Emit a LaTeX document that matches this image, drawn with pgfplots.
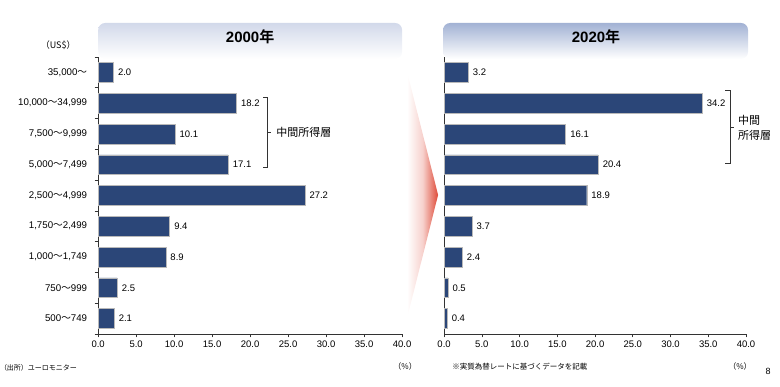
\documentclass[border=0pt]{standalone}
\usepackage{fontspec}
\setmainfont{Liberation Sans}
\newfontfamily\jp{Noto Sans CJK JP}[BoldFont={Noto Sans CJK JP Bold}]
\usepackage{pgfplots}
\pgfplotsset{compat=1.18}
\definecolor{barblue}{HTML}{2B4678}
\definecolor{hdrL}{HTML}{D2D9EA}
\definecolor{hdrR}{HTML}{A2B2D4}
\definecolor{arrowred}{HTML}{DE4A38}
\definecolor{axisgray}{HTML}{333333}
\newcommand{\wave}{{\jp ～}}
\pgfplotsset{panel/.style={
  scale only axis, height=277pt,
  xbar, bar width=0.64,
  xmin=0, xmax=40, ymin=-0.5, ymax=8.5,
  xtick={0,5,...,40},
  /pgf/number format/assume math mode=true,
  xticklabel style={font=\fontsize{9.5}{10}\selectfont, /pgf/number format/.cd, fixed, fixed zerofill, precision=1},
  axis lines*=left,
  axis line style={axisgray, line width=0.6pt},
  tick align=outside,
  major tick length=3.5pt, minor tick length=3.5pt,
  tick style={axisgray, line width=0.6pt},
  ytick={0,...,8},
  minor ytick={-0.5,0.5,...,8.5},
  major y tick style={draw=none},
  minor y tick style={draw=axisgray, line width=0.6pt},
  yticklabel style={font=\fontsize{9.7}{10}\selectfont, xshift=-4pt},
  point meta=x,
  nodes near coords={\pgfmathprintnumber[fixed,fixed zerofill,precision=1]{\pgfplotspointmeta}},
  nodes near coords style={font=\fontsize{9.5}{10}\selectfont, anchor=west, inner sep=0pt, xshift=4.5pt},
  clip=false,
}}
\begin{document}
\begin{tikzpicture}
\begin{scope}[x=1pt,y=1pt]
\path[use as bounding box] (0,0) rectangle (780,387);
% headers
\shade[top color=hdrL, bottom color=white, rounded corners=7pt] (98,364) rectangle (402,328);
\shade[top color=hdrR, bottom color=white, rounded corners=7pt] (443,364) rectangle (748,328);
\node[font=\fontsize{15}{16}\selectfont\bfseries] at (250,350) {2000{\jp 年}};
\node[font=\fontsize{15}{16}\selectfont\bfseries] at (596,350) {2020{\jp 年}};
% arrow
\shade[left color=white, right color=arrowred, middle color=arrowred!25] (407,315) -- (438,192) -- (407,69) -- cycle;
\end{scope}

\begin{axis}[panel, at={(98pt,53pt)}, anchor=south west, width=304pt,
  yticklabels={{500\wave749},{750\wave999},{1,000\wave1,749},{1,750\wave2,499},{2,500\wave4,999},{5,000\wave7,499},{7,500\wave9,999},{10,000\wave34,999},{35,000\wave}}]
\addplot[fill=barblue, draw=gray!55, line width=0.4pt] coordinates {
(2.1,0) (2.5,1) (8.9,2) (9.4,3) (27.2,4) (17.1,5) (10.1,6) (18.2,7) (2.0,8)};
\end{axis}

\begin{axis}[panel, at={(444pt,53pt)}, anchor=south west, width=302pt, ytick=\empty]
\addplot[fill=barblue, draw=gray!55, line width=0.4pt] coordinates {
(0.4,0) (0.5,1) (2.4,2) (3.7,3) (18.9,4) (20.4,5) (16.1,6) (34.2,7) (3.2,8)};
\end{axis}

\begin{scope}[x=1pt,y=1pt]
% brackets
\draw[axisgray, line width=0.6pt] (263,290) -- (267,290) -- (267,220) -- (263,220);
\draw[axisgray, line width=0.6pt] (267,255) -- (271,255);
\node[font=\jp\fontsize{11}{12}\selectfont, anchor=west, inner sep=0pt] at (276,255) {中間所得層};
\draw[axisgray, line width=0.6pt] (725,297) -- (730,297) -- (730,224) -- (725,224);
\draw[axisgray, line width=0.6pt] (730,260) -- (734,260);
\node[font=\jp\fontsize{11}{12}\selectfont, anchor=west, inner sep=0pt] at (738,267) {中間};
\node[font=\jp\fontsize{11}{12}\selectfont, anchor=west, inner sep=0pt] at (738,252) {所得層};
% texts
\node[font=\jp\fontsize{9}{10}\selectfont] at (58,342) {（US\$）};
\node[font=\jp\fontsize{8}{9}\selectfont] at (405,20) {（\%）};
\node[font=\jp\fontsize{8}{9}\selectfont] at (740,20) {（\%）};
\node[font=\jp\fontsize{7}{8}\selectfont, anchor=east, inner sep=0pt] at (77,19) {（出所）ユーロモニター};
\node[font=\jp\fontsize{7.5}{8}\selectfont, anchor=west, inner sep=0pt] at (452,20) {※実質為替レートに基づくデータを記載};
\node[font=\fontsize{9}{10}\selectfont] at (768,15) {8};
\end{scope}
\end{tikzpicture}
\end{document}
